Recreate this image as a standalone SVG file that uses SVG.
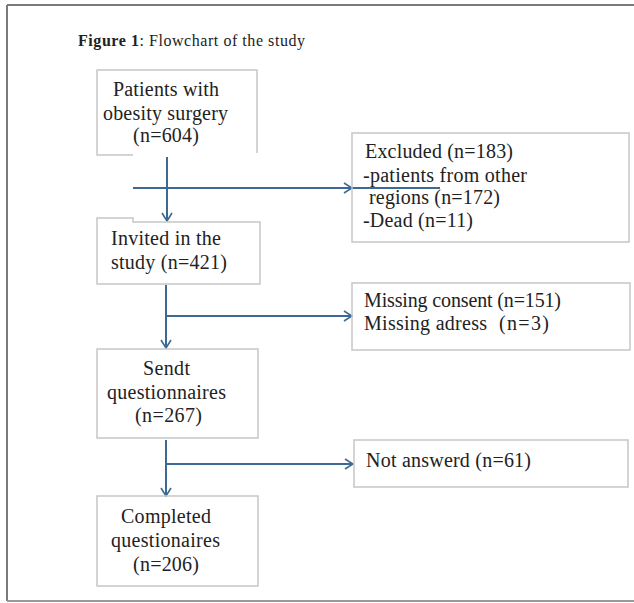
<svg xmlns="http://www.w3.org/2000/svg" width="634" height="603" viewBox="0 0 634 603">
<style>
  .frame { fill: none; stroke: #7a7a7a; stroke-width: 2; }
  .box { fill: none; stroke: #c6c6c6; stroke-width: 1.5; }
  .t { font-family: "Liberation Serif", "Times New Roman", serif; font-size: 20px; fill: #222; }
  .title { font-family: "Liberation Serif", "Times New Roman", serif; font-size: 16px; fill: #222; }
  .conn { fill: none; stroke: #3d6a92; stroke-width: 2; }
</style>
<defs>
  <marker id="arr" viewBox="0 0 10 12" refX="9" refY="6" markerWidth="10" markerHeight="12" markerUnits="userSpaceOnUse" orient="auto">
    <path d="M1,1 L9,6 L1,11" fill="none" stroke="#3d6a92" stroke-width="1.6"/>
  </marker>
</defs>
<rect x="0" y="0" width="634" height="603" fill="#ffffff"/>
<g id="frame">
  <path class="frame" d="M7,5 H634"/>
  <path class="frame" d="M7,5 V601"/>
  <path d="M7,601 H634" fill="none" stroke="#9a9a9a" stroke-width="2"/>
</g>
<text id="title" class="title" x="78" y="46" textLength="227" lengthAdjust="spacing"><tspan font-weight="bold">Figure 1</tspan>: Flowchart of the study</text>

<g id="connectors">
  <line class="conn" x1="167" y1="157" x2="167" y2="221" marker-end="url(#arr)"/>
  <line class="conn" x1="133" y1="188" x2="352" y2="188" marker-end="url(#arr)"/>
  <line class="conn" x1="350" y1="188" x2="440" y2="188"/>
  <line class="conn" x1="166" y1="285" x2="166" y2="348" marker-end="url(#arr)"/>
  <line class="conn" x1="166" y1="316" x2="352" y2="316" marker-end="url(#arr)"/>
  <line class="conn" x1="166" y1="440" x2="166" y2="496" marker-end="url(#arr)"/>
  <line class="conn" x1="166" y1="464" x2="353" y2="464" marker-end="url(#arr)"/>
</g>

<g id="n1">
  <path class="box" d="M133,155 H97 V70 H257 V153"/>
  <text class="t" x="113" y="96" textLength="106" lengthAdjust="spacing">Patients with</text>
  <text class="t" x="103" y="120" textLength="125" lengthAdjust="spacing">obesity surgery</text>
  <text class="t" x="133" y="142" textLength="66" lengthAdjust="spacing">(n=604)</text>
</g>
<g id="n2">
  <path class="box" d="M97,218 H133 V222 H260 V284 H97 Z"/>
  <text class="t" x="111" y="245" textLength="110" lengthAdjust="spacing">Invited in the</text>
  <text class="t" x="111" y="269" textLength="116" lengthAdjust="spacing">study (n=421)</text>
</g>
<g id="n3">
  <rect class="box" x="97" y="349" width="161" height="89"/>
  <text class="t" x="143" y="375" textLength="47" lengthAdjust="spacing">Sendt</text>
  <text class="t" x="107" y="399" textLength="119" lengthAdjust="spacing">questionnaires</text>
  <text class="t" x="135" y="422" textLength="67" lengthAdjust="spacing">(n=267)</text>
</g>
<g id="n4">
  <rect class="box" x="97" y="496" width="161" height="90"/>
  <text class="t" x="121" y="523" textLength="90" lengthAdjust="spacing">Completed</text>
  <text class="t" x="111" y="547" textLength="109" lengthAdjust="spacing">questionaires</text>
  <text class="t" x="133" y="571" textLength="66" lengthAdjust="spacing">(n=206)</text>
</g>
<g id="excluded">
  <rect class="box" x="352" y="133" width="277" height="109"/>
  <text class="t" x="365" y="158" textLength="148" lengthAdjust="spacing">Excluded (n=183)</text>
  <text class="t" x="363" y="182" textLength="164" lengthAdjust="spacing">-patients from other</text>
  <text class="t" x="369" y="204" textLength="131" lengthAdjust="spacing">regions (n=172)</text>
  <text class="t" x="363" y="227" textLength="110" lengthAdjust="spacing">-Dead (n=11)</text>
</g>
<g id="missing">
  <rect class="box" x="352" y="283" width="278" height="67"/>
  <text class="t" x="364" y="307" textLength="197" lengthAdjust="spacing">Missing consent (n=151)</text>
  <text class="t" x="364" y="330" textLength="123" lengthAdjust="spacing">Missing adress</text>
  <text class="t" x="499" y="330" textLength="50" lengthAdjust="spacing">(n=3)</text>
</g>
<g id="notanswered">
  <rect class="box" x="354" y="440" width="274" height="47"/>
  <text class="t" x="366" y="467" textLength="165" lengthAdjust="spacing">Not answerd (n=61)</text>
</g>
</svg>
